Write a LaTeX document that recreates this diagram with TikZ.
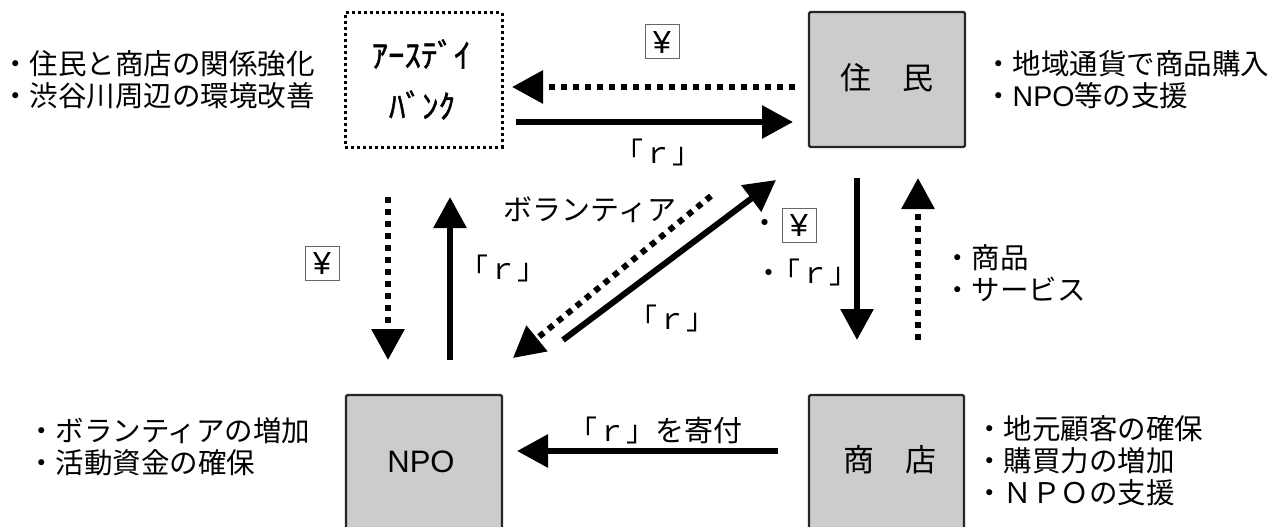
\documentclass[tikz,border=0pt]{standalone}
\usepackage{fontspec}
\setmainfont{Noto Sans CJK JP}
\newfontfamily\arial{Liberation Sans}
\newfontfamily\hwfont[FakeBold=1.2]{Noto Sans CJK JP}
\usetikzlibrary{arrows.meta}
\begin{document}
\begin{tikzpicture}[x=1pt,y=-1pt,
  box/.style={draw=black!85, line width=2.2pt, fill=black!20, rounded corners=1.5pt, inner sep=0pt},
  bankbox/.style={draw=black, line width=3pt, dash pattern=on 3pt off 3pt, inner sep=0pt},
  solidarr/.style={line width=6pt, -{Triangle[length=31pt,width=32pt]}},
  dotarr/.style={line width=6pt, dash pattern=on 6pt off 6pt, -{Triangle[length=31pt,width=32pt]}},
  side/.style={font=\fontsize{28.5}{32}\selectfont, align=left, inner sep=0pt},
  lbl/.style={font=\fontsize{29}{32}\selectfont, inner sep=0pt},
  boxtxt/.style={font=\fontsize{31}{36}\selectfont, inner sep=0pt},
  hw/.style={font=\fontsize{33}{36}\hwfont, inner sep=0pt},
  yen/.style={draw=black!60, line width=1pt, minimum width=34pt, minimum height=34pt, inner sep=0pt, font=\fontsize{32}{34}\arial}]
\useasboundingbox (0,0) rectangle (1286,527);
\clip (0,0) rectangle (1286,527);

% boxes
\node[bankbox, minimum width=157pt, minimum height=134pt] (bank) at (423.5,80) {};
\node[box, minimum width=156pt, minimum height=135pt] (jumin) at (887,79.5) {};
\node[box, minimum width=156pt, minimum height=170pt] (npo) at (424,480) {};
\node[box, minimum width=155pt, minimum height=170pt] (shoten) at (886.5,480) {};

% box texts
\node[hw] (bank1) at (421,54) {ｱｰｽﾃﾞｲ};
\node[hw] (bank2) at (422,105) {ﾊﾞﾝｸ};
\node[boxtxt] (jumintxt) at (887,78) {住　民};
\node[boxtxt, font=\fontsize{31}{36}\arial] (npotxt) at (421,462) {NPO};
\node[boxtxt] (shotentxt) at (890,460) {商　店};

% side texts
\node[side, anchor=west] (tl) at (1,80) {・住民と商店の関係強化\\・渋谷川周辺の環境改善};
\node[side, anchor=west] (tr) at (984,80) {・地域通貨で商品購入\\・{\arial NPO}等の支援};
\node[side, anchor=west] (bl) at (27,447) {・ボランティアの増加\\・活動資金の確保};
\node[side, anchor=west] (br) at (975,461) {・地元顧客の確保\\・購買力の増加\\・ＮＰＯの支援};

% arrow end points
\coordinate (a1s) at (795,87);  \coordinate (a1e) at (512,87);
\coordinate (a2s) at (516,122); \coordinate (a2e) at (793,122);
\coordinate (a3s) at (388,197); \coordinate (a3e) at (388,360);
\coordinate (a4s) at (450,360); \coordinate (a4e) at (450,197);
\coordinate (a5s) at (711,196); \coordinate (a5e) at (513,358);
\coordinate (a6s) at (563,340); \coordinate (a6e) at (776,180);
\coordinate (a7s) at (857,178); \coordinate (a7e) at (857,340);
\coordinate (a8s) at (918,340); \coordinate (a8e) at (918,178);
\coordinate (a9s) at (778,451); \coordinate (a9e) at (517,451);

\draw[dotarr] (a1s) -- (a1e);
\draw[solidarr] (a2s) -- (a2e);
\draw[dotarr] (a3s) -- (a3e);
\draw[solidarr] (a4s) -- (a4e);
\draw[dotarr] (a5s) -- (a5e);
\draw[solidarr] (a6s) -- (a6e);
\draw[solidarr] (a7s) -- (a7e);
\draw[dotarr] (a8s) -- (a8e);
\draw[solidarr] (a9s) -- (a9e);

% labels
\node[yen] (yen1) at (662,42) {¥};
\node[lbl] (r1) at (658,152) {「ｒ」};
\node[yen] (yen2) at (322,263) {¥};
\node[lbl] (r2) at (503,268) {「ｒ」};
\node[lbl] (vol) at (590,210) {ボランティア};
\node[lbl] (r3) at (672,318) {「ｒ」};
\node[lbl, anchor=east] (dot1) at (780,226) {・};
\node[yen] (yen3) at (799,225) {¥};
\node[lbl, anchor=west] (r4) at (754,272) {・\hspace{-12pt}「ｒ」};
\node[side, anchor=west] (goods) at (943,273) {・商品\\・サービス};
\node[lbl] (r5) at (655,430) {「ｒ」を寄付};
\end{tikzpicture}
\end{document}
